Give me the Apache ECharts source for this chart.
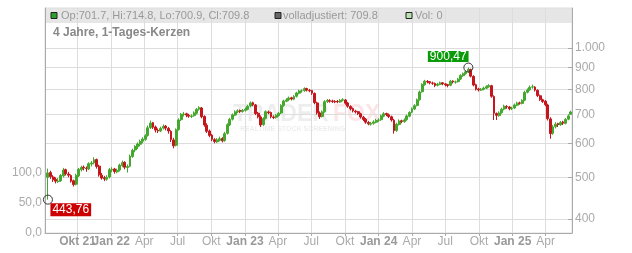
<!DOCTYPE html>
<html><head><meta charset="utf-8">
<script src="https://cdn.jsdelivr.net/npm/echarts@6/dist/echarts.min.js"></script>
<style>html,body{margin:0;padding:0;background:#fff}#c{width:632px;height:253px}</style>
</head><body><div id="c"></div><script>
// weekly candles, first week starting 2021-07-12
const firstWeek = [2021, 7, 12];
const opens = [
500,513,501,495,489,491,504,521,509,505,
491,482,504,521,528,525,523,537,541,550,
531,506,499,495,501,520,523,515,520,533,
542,527,531,559,579,589,597,607,613,626,
653,670,655,643,641,651,658,650,640,611,
594,646,681,700,703,697,693,696,705,721,
725,693,661,641,627,612,605,610,616,609,
633,662,683,698,711,715,712,716,720,733,
746,737,705,691,663,686,710,708,691,690,
696,706,735,752,758,766,760,772,785,795,
796,805,797,796,784,745,706,693,711,751,
754,753,750,751,749,756,757,745,731,723,
713,711,703,690,683,671,665,668,672,679,
681,694,704,699,692,679,643,664,677,674,
681,694,709,721,735,758,791,821,836,835,
829,827,819,823,830,825,822,819,838,833,
835,847,862,872,881,891,859,821,803,798,
802,806,812,817,771,704,696,707,721,731,
729,723,725,736,745,743,756,789,799,811,
811,797,774,758,752,737,684,633,656,666,
663,672,668,683,701.7];
const highs = [
524,518,506,500,498,509,526,524,515,508,
494,510,526,532,533,530,542,546,557,553,
535,512,504,506,526,528,526,524,538,547,
545,536,565,583,594,603,612,620,630,660,
678,673,660,650,656,664,662,655,644,618,
650,686,706,710,707,703,701,712,725,732,
729,697,668,646,631,617,617,622,620,638,
668,688,704,716,720,719,721,727,738,751,
750,741,710,697,690,716,715,711,697,702,
710,740,758,764,771,770,777,791,800,801,
810,808,803,799,788,750,712,716,756,761,
760,758,756,757,761,764,761,749,736,727,
718,714,707,695,687,676,673,679,684,686,
700,709,707,704,696,684,670,682,681,686,
700,713,727,740,763,796,828,843,842,838,
835,831,830,835,833,829,825,843,841,840,
852,869,877,886,900.47,895,864,826,808,807,
813,819,824,821,776,708,712,726,738,736,
733,730,743,750,750,760,795,805,818,822,
815,801,779,762,757,742,690,662,672,670,
676,677,687,700,714.8];
const lows = [
443.76,496,488,484,485,488,500,505,500,486,
476,479,501,516,519,515,520,530,536,524,
502,494,490,491,497,514,510,511,516,528,
522,513,528,555,572,582,590,600,608,622,
648,648,636,634,637,646,643,632,604,584,
590,642,676,693,690,688,687,692,700,715,
686,656,634,620,607,600,601,606,603,605,
629,658,678,694,705,706,707,711,716,728,
732,698,686,655,659,682,701,686,683,685,
692,702,730,748,752,755,756,767,780,787,
791,792,789,778,740,700,684,689,707,745,
746,745,744,744,745,751,738,726,716,708,
704,698,685,676,666,661,660,663,668,673,
677,690,694,687,674,632,638,660,668,670,
677,690,705,717,731,754,787,817,827,823,
821,811,814,819,819,814,810,815,827,826,
831,843,857,866,876,854,814,796,792,794,
797,802,808,766,680,680,692,703,716,722,
716,717,721,732,738,739,752,784,795,804,
792,769,753,745,732,678,615,628,650,655,
659,662,664,679,700.9];
const closes = [
512,502,494,490,490,505,520,510,506,490,
481,505,522,527,526,524,538,540,549,530,
507,498,496,500,521,522,516,519,534,541,
528,530,560,578,590,598,606,614,625,652,
669,654,644,642,650,657,651,641,612,592,
645,680,701,702,698,694,695,706,720,726,
692,662,640,626,613,606,611,615,608,632,
663,682,699,710,714,713,715,721,732,745,
738,704,692,662,685,711,707,692,689,697,
705,734,753,757,765,761,771,786,794,795,
804,798,795,785,746,707,692,710,750,755,
752,751,750,750,755,758,744,732,722,714,
710,704,691,682,672,666,667,673,678,680,
695,703,700,693,680,642,665,676,675,680,
695,708,722,734,757,790,822,837,834,830,
828,818,824,829,826,821,818,837,834,834,
846,863,871,880,892,860,820,802,799,801,
807,813,818,772,705,697,706,720,732,730,
722,724,737,744,744,755,788,798,810,812,
798,775,759,751,738,685,632,655,665,664,
671,669,682,695,709.8];
const tickDates = ['2021-10-01','2022-01-01','2022-04-01','2022-07-01','2022-10-01','2023-01-01','2023-04-01','2023-07-01','2023-10-01','2024-01-01','2024-04-01','2024-07-01','2024-10-01','2025-01-01','2025-04-01'];
const tickLabels = ['Okt 21','Jan 22','Apr','Jul','Okt','Jan 23','Apr','Jul','Okt','Jan 24','Apr','Jul','Okt','Jan 25','Apr'];
const boldTicks = [true,true,false,false,false,true,false,false,false,true,false,false,false,true,false];
const priceTicks = [400,500,600,700,800,900,1000];
const volTicks = [0,50,100];
const lowLabel = '443,76', highLabel = '900,47';
const legendTexts = ['Op:701.7, Hi:714.8, Lo:700.9, Cl:709.8', 'volladjustiert: 709.8', 'Vol: 0'];
const titleText = '4 Jahre, 1-Tages-Kerzen';

function ts(s){ const p = s.split('-').map(Number); return new Date(p[0], p[1]-1, p[2]).getTime(); }
const tickTs = tickDates.map(ts);
// labels split over two axes so that the overlapping "Okt 21" / "Jan 22" both show
const labelTsA = tickTs.filter((_, j) => j !== 1);
const labelTsB = [tickTs[1]];
const weekTs = closes.map((_, i) => new Date(firstWeek[0], firstWeek[1]-1, firstWeek[2] + 7*i).getTime());
const candleData = closes.map((c, i) => [weekTs[i], opens[i], c, lows[i], highs[i]]);
let iMin = 0, iMax = 0;
lows.forEach((v,i)=>{ if (v < lows[iMin]) iMin = i; });
highs.forEach((v,i)=>{ if (v > highs[iMax]) iMax = i; });

const FF = '"Liberation Sans", Arial, sans-serif';
const xMin = ts('2021-07-04'), xMax = ts('2025-06-12');
function fmtX(v){ const j = tickTs.indexOf(+v); if (j < 0) return ''; return boldTicks[j] ? '{b|' + tickLabels[j] + '}' : tickLabels[j]; }
const xLabelBase = {margin: 3, fontSize: 12, color: '#aaa', fontFamily: FF, hideOverlap: false, interval: 0,
  showMinLabel: true, showMaxLabel: true, formatter: fmtX,
  rich: {b: {fontWeight: 'bold', color: '#999', fontSize: 12, fontFamily: FF}}};
const chart = echarts.init(document.getElementById('c'), null, {renderer:'canvas'});
chart.setOption({
  animation: false,
  backgroundColor: '#fff',
  textStyle: {fontFamily: FF},
  grid: {left: 45, right: 60, top: 8, bottom: 20, show: true, borderColor: '#ddd', borderWidth: 1, outerBoundsMode: 'none', containLabel: false},
  xAxis: [{
    type: 'value', min: xMin, max: xMax, scale: true, position: 'bottom',
    axisLine: {show: true, lineStyle: {color: '#aaa'}},
    axisTick: {show: true, length: 3, customValues: tickTs, lineStyle: {color: '#aaa'}},
    minorTick: {show: false},
    axisLabel: Object.assign({customValues: labelTsA}, xLabelBase),
    splitLine: {show: true, lineStyle: {color: '#ddd', width: 1}}
  }, {
    type: 'value', min: xMin, max: xMax, scale: true, position: 'bottom', offset: 0,
    axisLine: {show: false}, axisTick: {show: false, customValues: labelTsB}, minorTick: {show: false},
    axisLabel: Object.assign({customValues: labelTsB}, xLabelBase),
    splitLine: {show: false}
  }],
  yAxis: [{
    type: 'log', logBase: 10, min: 371.1, max: 1239, position: 'right',
    axisLine: {show: true, lineStyle: {color: '#aaa'}},
    axisTick: {show: true, inside: true, length: 4, customValues: priceTicks, lineStyle: {color: '#aaa'}},
    minorTick: {show: false},
    axisLabel: {customValues: priceTicks, margin: 3, fontSize: 12, color: '#aaa', fontFamily: FF,
      formatter: v => v >= 1000 ? (Math.floor(v/1000) + '.' + String(Math.round(v) % 1000).padStart(3,'0')) : String(Math.round(v))},
    splitLine: {show: true, lineStyle: {color: '#ddd', width: 1}}
  }, {
    type: 'value', min: 0, max: 375, position: 'left',
    axisLine: {show: true, lineStyle: {color: '#aaa'}},
    axisTick: {show: false},
    axisLabel: {customValues: volTicks, margin: 3, fontSize: 12, color: '#aaa', fontFamily: FF,
      formatter: v => Number(v).toFixed(1).replace('.', ',')},
    splitLine: {show: false}
  }],
  series: [{
    type: 'candlestick', yAxisIndex: 0, xAxisIndex: 0,
    data: candleData, encode: {x: 0, y: [1,2,3,4]},
    barWidth: 2.4,
    itemStyle: {color: '#45a82e', color0: '#c4161c', borderColor: '#45a82e', borderColor0: '#c4161c', borderWidth: 1},
    z: 3,
    markPoint: {
      symbol: 'circle', symbolSize: 9,
      itemStyle: {color: 'rgba(0,0,0,0)', borderColor: '#333', borderWidth: 1},
      data: [
        {coord: [weekTs[iMin], lows[iMin]], label: {show: true, formatter: lowLabel, position: [7.5, 8.5], align: 'left', verticalAlign: 'top',
          color: '#fff', fontSize: 12, fontFamily: FF, backgroundColor: '#cc0000', padding: [1,2,0,2], lineHeight: 12}},
        {coord: [weekTs[iMax], highs[iMax]], label: {show: true, formatter: highLabel, position: [-35.5, -11.5], align: 'left', verticalAlign: 'top',
          color: '#fff', fontSize: 12, fontFamily: FF, backgroundColor: '#0a9a0a', padding: [0,2,0,2], lineHeight: 11}}
      ]
    }
  }],
  graphic: [
    {type: 'rect', z: -10, silent: true, shape: {x: 45, y: 8, width: 527, height: 15}, style: {fill: '#e6e6e6'}},
    {type: 'text', z: -5, silent: true, style: {x: 233, y: 115, text: 'TRADER', fill: 'rgba(0,0,0,0.07)', font: 'bold 23px ' + FF, verticalAlign: 'middle'}},
    {type: 'text', z: -5, silent: true, style: {x: 333, y: 115, text: 'FOX', fill: 'rgba(230,40,60,0.12)', font: 'bold 23px ' + FF, verticalAlign: 'middle'}},
    {type: 'text', z: -5, silent: true, style: {x: 240, y: 129, text: 'REALTIME STOCK SCREENING', fill: 'rgba(0,0,0,0.08)', font: 'bold 7px ' + FF, verticalAlign: 'middle'}},
    {type: 'rect', z: 10, shape: {x: 51, y: 12.5, width: 6, height: 6}, style: {fill: '#2ea02a', stroke: '#222', lineWidth: 1}},
    {type: 'text', z: 10, style: {x: 61, y: 16, text: legendTexts[0], fill: '#999', font: '11px ' + FF, verticalAlign: 'middle'}},
    {type: 'rect', z: 10, shape: {x: 275, y: 12.5, width: 6, height: 6}, style: {fill: '#666', stroke: '#222', lineWidth: 1}},
    {type: 'text', z: 10, style: {x: 283, y: 16, text: legendTexts[1], fill: '#999', font: '11px ' + FF, verticalAlign: 'middle'}},
    {type: 'rect', z: 10, shape: {x: 406, y: 12.5, width: 6, height: 6}, style: {fill: '#b8e2b0', stroke: '#222', lineWidth: 1}},
    {type: 'text', z: 10, style: {x: 415, y: 16, text: legendTexts[2], fill: '#999', font: '11px ' + FF, verticalAlign: 'middle'}},
    {type: 'text', z: 10, style: {x: 53, y: 33, text: titleText, fill: '#888', font: 'bold 12px ' + FF, verticalAlign: 'middle'}}
  ]
});
</script></body></html>
